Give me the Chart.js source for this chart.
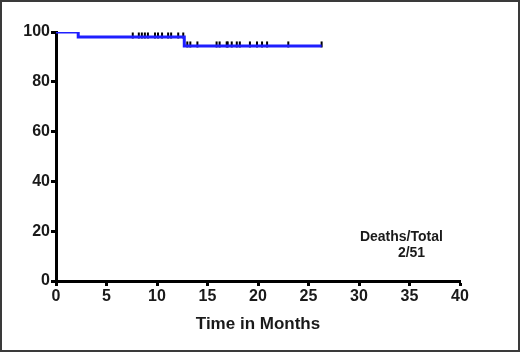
<!DOCTYPE html>
<html><head><meta charset="utf-8">
<script src="https://cdn.jsdelivr.net/npm/chart.js@4/dist/chart.umd.min.js"></script>
<style>html,body{margin:0;padding:0;background:#fff}#w{width:520px;height:352px;position:relative}</style>
</head><body><div id="w"><canvas id="c" width="520" height="352"></canvas></div>
<script>
const curveTimes = [0, 2.2, 12.7, 26.3];
const curveSurvival = [100, 98.0, 94.4, 94.4];
const censorTimes = [7.6, 8.2, 8.5, 8.8, 9.1, 9.8, 10.1, 10.5, 11.1, 11.4, 12.1, 12.6,
  13.0, 13.3, 14.0, 15.9, 16.2, 16.9, 17.0, 17.4, 17.9, 18.2, 19.2, 19.9, 20.4, 20.9, 23.0, 26.3];
const xTicks = [0, 5, 10, 15, 20, 25, 30, 35, 40];
const yTicks = [0, 20, 40, 60, 80, 100];
const noteLines = ['Deaths/Total', '2/51'];

function survivalAt(t){ let s = curveSurvival[0]; for(let i=0;i<curveTimes.length;i++){ if(curveTimes[i] <= t) s = curveSurvival[i]; } return s; }

const font = {family: '"Liberation Sans", Arial, sans-serif', size: 16, weight: 'bold'};
const frame = {id:'frame', afterDraw(ch){ const c=ch.ctx; c.save(); c.strokeStyle='#3a3a3a'; c.lineWidth=2; c.strokeRect(1,1,518,350);
  const x=ch.scales.x, y=ch.scales.y; c.fillStyle='#1a1a1a'; c.font='bold 14px "Liberation Sans", Arial, sans-serif'; c.textAlign='center'; c.textBaseline='middle';
  c.fillText(noteLines[0], x.getPixelForValue(34.2), y.getPixelForValue(17.6));
  c.fillText(noteLines[1], x.getPixelForValue(35.2), y.getPixelForValue(11.2));
  c.restore(); }};

new Chart(document.getElementById('c'), {
  type: 'line',
  data: { datasets: [
    { data: curveTimes.map((t,i)=>({x:t,y:curveSurvival[i]})), stepped: true, borderColor:'#1f1fff', borderWidth:3, pointRadius:0, fill:false },
    { data: censorTimes.map(t=>({x:t,y:survivalAt(t)+0.6})), showLine:false, pointStyle:'line', rotation:90, pointRadius:3, borderColor:'#000', borderWidth:2 }
  ]},
  options: {
    responsive:false, animation:false, devicePixelRatio:1,
    layout:{padding:{left:0,right:60,top:32,bottom:0}},
    plugins:{legend:{display:false}, tooltip:{enabled:false}},
    scales:{
      x:{ type:'linear', min:0, max:40, afterBuildTicks(s){ s.ticks = xTicks.map(v=>({value:v})); },
        afterFit(s){ s.height = 71; },
        grid:{drawOnChartArea:false, drawTicks:true, tickLength:5, tickWidth:3, tickColor:'#000'},
        border:{color:'#000', width:3},
        ticks:{color:'#1a1a1a', font, padding:1, maxRotation:0},
        title:{display:true, text:'Time in Months', color:'#1a1a1a', font:{...font, size:17}, padding:{top:0,bottom:17}} },
      y:{ min:0, max:100, afterBuildTicks(s){ s.ticks = yTicks.map(v=>({value:v})); },
        afterFit(s){ s.width = 56; },
        grid:{drawOnChartArea:false, drawTicks:true, tickLength:5, tickWidth:3, tickColor:'#000'},
        border:{color:'#000', width:3},
        ticks:{color:'#1a1a1a', font, padding:1} }
    }
  },
  plugins:[frame]
});
</script></body></html>
